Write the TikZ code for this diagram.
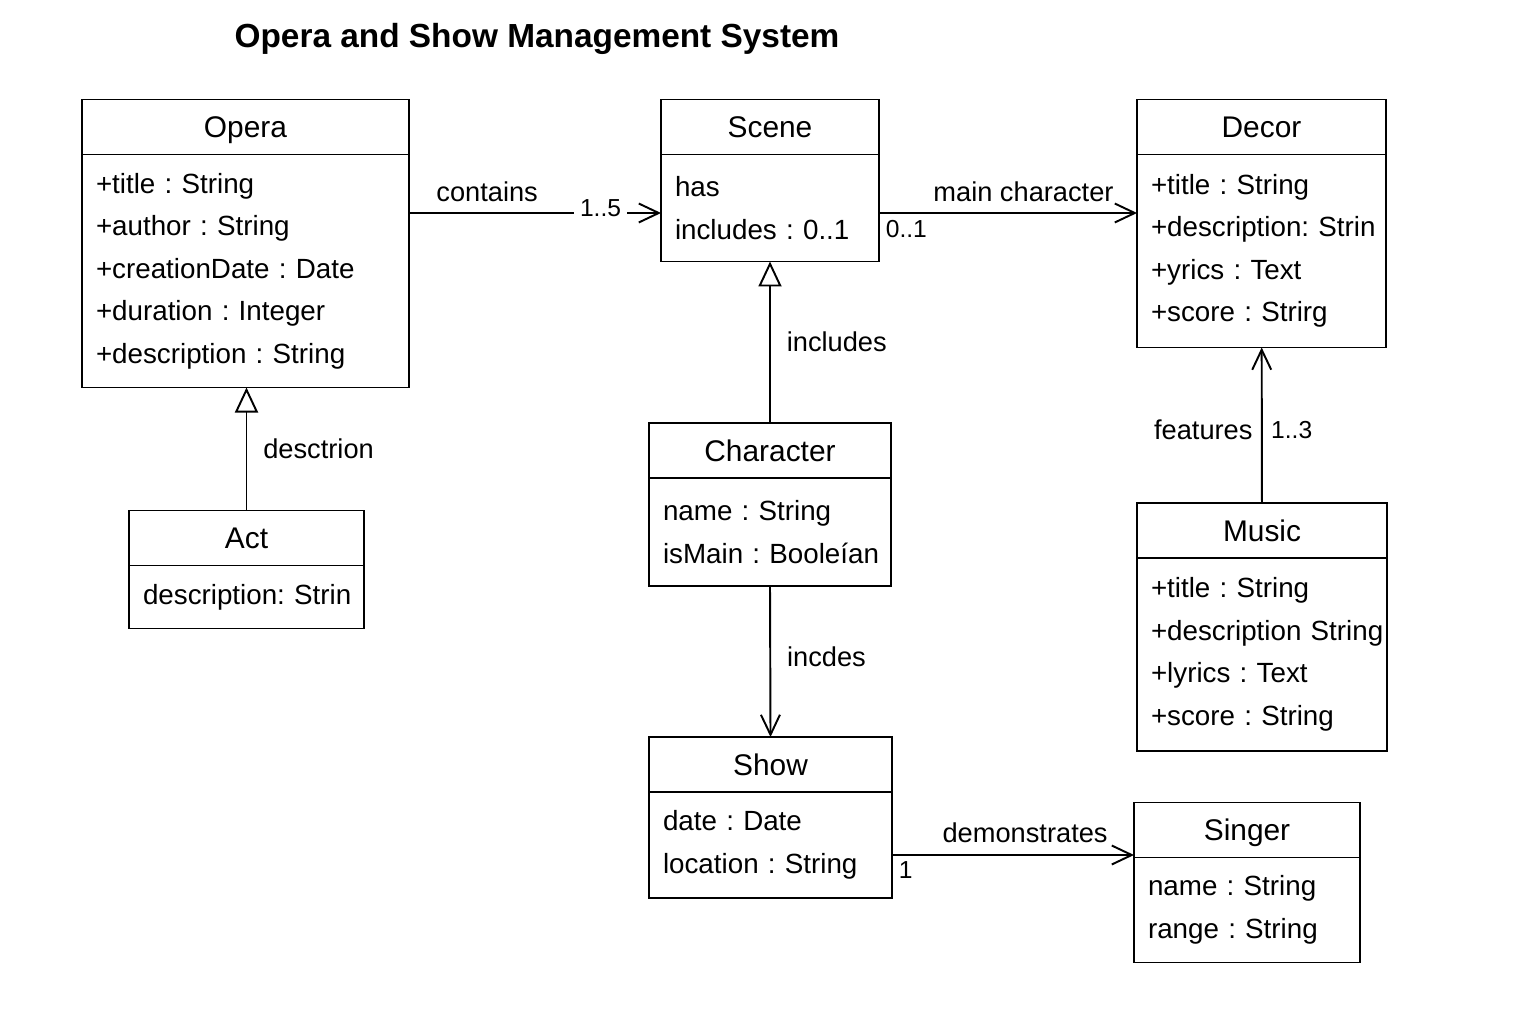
\documentclass[tikz,border=0pt]{standalone}
\usepackage{fontspec}
\setmainfont{Liberation Sans}
\usetikzlibrary{arrows.meta, positioning}

\begin{document}
\frenchspacing
\begin{tikzpicture}[
    classhead/.style={draw, line width=1.1pt, outer sep=0pt, minimum height=1.1cm, text height=14pt, text depth=2pt, font=\fontsize{17}{20}\selectfont},
    classbody/.style={draw, line width=1.1pt, outer sep=0pt, inner xsep=0.28cm, align=left, font=\fontsize{15.8}{24.2}\selectfont},
    assoc/.style={line width=1.1pt, -{Straight Barb[length=0.4cm, width=0.38cm]}},
    inherit/.style={line width=1.1pt, -{Triangle[open, length=0.5cm, width=0.46cm]}},
    linklabel/.style={font=\fontsize{15.5}{18}\selectfont},
    mult/.style={font=\fontsize{14}{16}\selectfont}
]
\useasboundingbox (0,0) rectangle (30.72,20.48);

% ===== TITLE =====
\node[font=\fontsize{19}{22}\selectfont\bfseries] (title) at (10.74,19.7) {Opera and Show Management System};

% ===== CLASSES =====
% Opera
\node[classhead, minimum width=6.54cm] (opera) at (4.91,17.94) {Opera};
\node[classbody, text width=5.98cm, minimum height=4.66cm, below=0pt of opera] (opera body)
    {+title : String\\+author : String\\+creationDate : Date\\+duration : Integer\\+description : String};

% Scene
\node[classhead, minimum width=4.36cm] (scene) at (15.40,17.94) {Scene};
\node[classbody, text width=3.80cm, minimum height=2.14cm, below=0pt of scene] (scene body)
    {has\\includes : 0..1};

% Decor
\node[classhead, minimum width=4.98cm] (decor) at (25.23,17.94) {Decor};
\node[classbody, text width=4.42cm, minimum height=3.86cm, below=0pt of decor] (decor body)
    {+title : String\\+description:~Strin\\+yrics : Text\\+score : Strirg};

% Act
\node[classhead, minimum width=4.70cm] (act) at (4.93,9.72) {Act};
\node[classbody, text width=4.14cm, minimum height=1.26cm, align=center, below=0pt of act] (act body)
    {description:~Strin};

% Character
\node[classhead, minimum width=4.84cm] (character) at (15.40,11.47) {Character};
\node[classbody, text width=4.28cm, minimum height=2.16cm, below=0pt of character] (character body)
    {name : String\\isMain~:~Booleían};

% Music
\node[classhead, minimum width=5.0cm] (music) at (25.24,9.87) {Music};
\node[classbody, text width=4.44cm, minimum height=3.86cm, below=0pt of music] (music body)
    {+title : String\\+description~String\\+lyrics : Text\\+score : String};

% Show
\node[classhead, minimum width=4.86cm] (show) at (15.41,5.19) {Show};
\node[classbody, text width=4.30cm, minimum height=2.12cm, below=0pt of show] (show body)
    {date : Date\\location : String};

% Singer
\node[classhead, minimum width=4.52cm] (singer) at (24.94,3.88) {Singer};
\node[classbody, text width=3.96cm, minimum height=2.10cm, below=0pt of singer] (singer body)
    {name : String\\range : String};

% ===== CONNECTORS =====
\draw[assoc] ([yshift=-0.1cm]scene body.west -| opera body.east) -- ([yshift=-0.1cm]scene body.west)
    node[linklabel, above=0.08cm, pos=0.31] {contains}
    node[mult, fill=white, pos=0.76, yshift=0.1cm] {1..5};

\draw[assoc] ([yshift=-0.1cm]scene body.east) -- ([yshift=-0.1cm]scene body.east -| decor body.west)
    node[linklabel, above=0.08cm, pos=0.56] {main character}
    node[mult, below right, pos=0] {0..1};

\draw[inherit] (character) -- (scene body)
    node[linklabel, right=0.2cm, pos=0.5] {includes};

\draw[inherit] (act) -- (act |- opera body.south)
    node[linklabel, right=0.2cm, pos=0.5] {desctrion};

\draw[assoc] (character body.south) -- (show.north)
    node[linklabel, right=0.2cm, pos=0.47] {incdes};

\draw[assoc] (music) -- (decor body)
    node[linklabel, left=0.05cm, pos=0.47] {features}
    node[mult, right=0.05cm, pos=0.47] {1..3};

\draw[assoc] ([yshift=-0.2cm]show body.east) -- ([yshift=-0.2cm]show body.east -| singer.west)
    node[linklabel, above=0.1cm, pos=0.55] {demonstrates}
    node[mult, below right, pos=0] {1};

\end{tikzpicture}
\end{document}
